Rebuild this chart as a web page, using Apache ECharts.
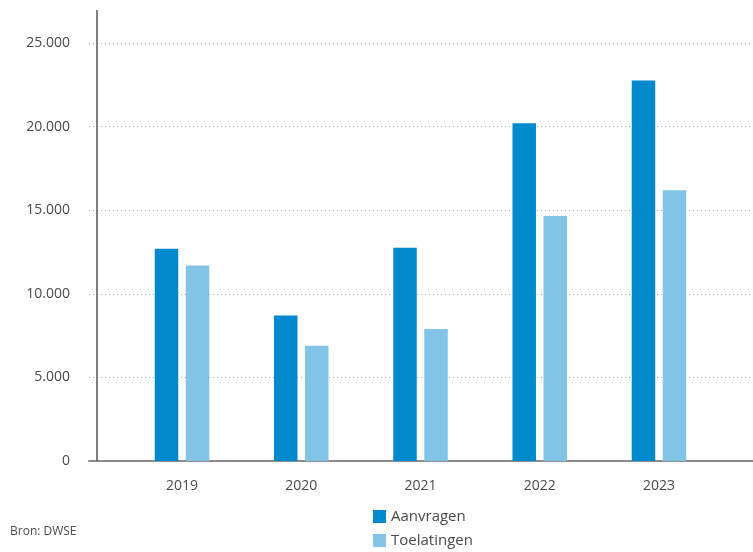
<!DOCTYPE html>
<html>
<head>
<meta charset="utf-8">
<script src="https://cdn.jsdelivr.net/npm/echarts@6/dist/echarts.min.js"></script>
<style>
  html, body { margin: 0; padding: 0; background: #fff; }
  #chart { width: 753px; height: 552px; }
</style>
</head>
<body>
<div id="chart"></div>
<script>
var years = ['2019', '2020', '2021', '2022', '2023'];
var aanvragen = [12700, 8700, 12750, 20200, 22750];
var toelatingen = [11700, 6900, 7900, 14650, 16200];
var yTicks = { min: 0, max: 25000, interval: 5000 };

var font = 'Open Sans';
var textColor = '#4a4a4a';

function fmt(v) {
  return String(v).replace(/\B(?=(\d{3})+(?!\d))/g, '.');
}

var chart = echarts.init(document.getElementById('chart'));
var option = {
  animation: false,
  textStyle: { fontFamily: font },
  grid: [
    { left: 89, right: 0, top: 43, bottom: 91 },
    { left: 122.4, right: 34.4, top: 43, bottom: 91 }
  ],
  xAxis: [
    {
      type: 'value', gridIndex: 0, min: 0, max: 1,
      axisLine: { show: true, lineStyle: { color: '#8c8c8c', width: 2 } },
      axisTick: { show: false }, axisLabel: { show: false }, splitLine: { show: false }
    },
    {
      type: 'category', gridIndex: 1, data: years,
      axisLine: { show: false }, axisTick: { show: false },
      axisLabel: { color: textColor, fontSize: 14, fontFamily: font, margin: 18 }
    }
  ],
  yAxis: [
    {
      type: 'value', gridIndex: 0,
      min: yTicks.min, max: yTicks.max, interval: yTicks.interval,
      axisLine: { show: false }, axisTick: { show: false },
      axisLabel: { color: textColor, fontSize: 14, fontFamily: font, margin: 19, formatter: fmt },
      splitLine: { lineStyle: { color: '#a8a8a8', type: [1, 3], width: 1 } }
    },
    {
      type: 'value', gridIndex: 1,
      min: yTicks.min, max: yTicks.max, show: false
    }
  ],
  legend: {
    orient: 'vertical', left: 368, top: 504, height: 60,
    itemWidth: 13, itemHeight: 13, itemGap: 9, icon: 'rect',
    textStyle: { color: textColor, fontSize: 15, fontFamily: font },
    data: ['Aanvragen', 'Toelatingen']
  },
  graphic: [
    {
      type: 'line', z: 10,
      shape: { x1: 97, y1: 10, x2: 97, y2: 461 },
      style: { stroke: '#555', lineWidth: 1.5 }
    },
    {
      type: 'text', left: 10, top: 526,
      style: { text: 'Bron: DWSE', fill: textColor, fontSize: 12, fontFamily: font }
    }
  ],
  series: [
    {
      name: 'Aanvragen', type: 'bar', xAxisIndex: 1, yAxisIndex: 1,
      data: aanvragen, barWidth: 23.5, barGap: '32%',
      itemStyle: { color: '#0189cd' }
    },
    {
      name: 'Toelatingen', type: 'bar', xAxisIndex: 1, yAxisIndex: 1,
      data: toelatingen, barWidth: 23.5, barGap: '32%',
      itemStyle: { color: '#82c4e7' }
    }
  ]
};
chart.setOption(option);
</script>
</body>
</html>
